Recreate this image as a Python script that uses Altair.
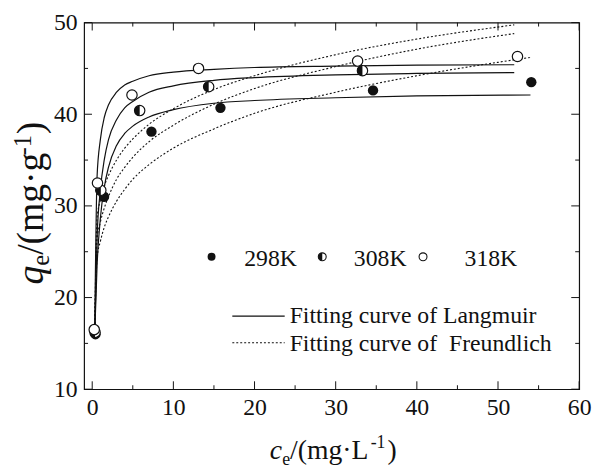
import altair as alt
import pandas as pd

# ---------------- data ----------------
# experimental points
c_298 = [0.40, 1.46, 7.3, 15.8, 34.6, 54.1]
q_298 = [16.0, 31.0, 38.1, 40.7, 42.6, 43.5]
c_308 = [0.35, 1.06, 5.85, 14.35, 33.3]
q_308 = [16.2, 31.7, 40.4, 43.0, 44.75]
c_318 = [0.25, 0.65, 4.9, 13.1, 32.7, 52.4]
q_318 = [16.5, 32.5, 42.1, 45.0, 45.8, 46.3]

# fitted curves
cL = [0.3, 0.6, 1, 1.5, 2, 3, 4, 5, 7, 10, 15, 20, 30, 40, 52]
cL_298 = [0.3, 0.6, 1, 1.5, 2, 3, 4, 5, 7, 10, 15, 20, 30, 40, 54]
lang_298 = [15.8, 23.5, 28.6, 32.1, 34.2, 36.6, 37.9, 38.7, 39.7, 40.5, 41.2, 41.5, 41.8, 42.0, 42.1]
lang_308 = [15.8, 26.5, 31.7, 35.1, 37.2, 39.4, 40.7, 41.4, 42.4, 43.1, 43.7, 44.0, 44.3, 44.45, 44.55]
lang_318 = [15.8, 33.2, 37.2, 39.7, 41.0, 42.4, 43.2, 43.6, 44.2, 44.6, 44.9, 45.1, 45.25, 45.35, 45.4]
freu_298 = [15.8, 24.3, 26.1, 27.7, 28.8, 30.5, 31.8, 32.9, 34.5, 36.3, 38.4, 40.1, 42.4, 44.2, 46.2]
freu_308 = [15.8, 26.3, 28.2, 29.8, 31.0, 32.9, 34.2, 35.3, 37.0, 38.8, 41.1, 42.8, 45.2, 47.1, 48.8]
freu_318 = [15.8, 28.7, 30.6, 32.2, 33.3, 35.0, 36.3, 37.3, 38.9, 40.6, 42.7, 44.2, 46.5, 48.2, 49.75]

x_major = [0, 10, 20, 30, 40, 50, 60]
x_minor = [5, 15, 25, 35, 45, 55]
y_major = [10, 20, 30, 40, 50]
y_minor = [15, 25, 35, 45]

# ---------------- chart ----------------
W, H = 501, 371
FONT = "Liberation Serif"
INK = "#111111"
xs = alt.Scale(domain=[-1, 60], nice=False, zero=False)
ys = alt.Scale(domain=[10, 50], nice=False, zero=False)

x_axis = alt.Axis(values=x_major, labelFont=FONT, labelFontSize=24, labelColor=INK,
                  ticks=False, domain=False, grid=False, title=None, labelPadding=7,
                  labelFlush=False)
y_axis = alt.Axis(values=y_major, labelFont=FONT, labelFontSize=24, labelColor=INK,
                  ticks=False, domain=False, grid=False, title=None, labelPadding=7,
                  labelFlush=False)

def curve(cs, qs, name):
    return pd.DataFrame({"c": cs, "q": qs, "curve": name})

lang_df = pd.concat([curve(cL_298, lang_298, "L298"), curve(cL, lang_308, "L308"),
                     curve(cL, lang_318, "L318")])
freu_df = pd.concat([curve(cL_298, freu_298, "F298"), curve(cL, freu_308, "F308"),
                     curve(cL, freu_318, "F318")])

base_enc = dict(x=alt.X("c:Q", scale=xs, axis=x_axis), y=alt.Y("q:Q", scale=ys, axis=y_axis))

lang = alt.Chart(lang_df).mark_line(color=INK, strokeWidth=1.2, interpolate="monotone").encode(
    detail="curve:N", **base_enc)
freu = alt.Chart(freu_df).mark_line(color=INK, strokeWidth=1.1, strokeDash=[2, 2],
                                    interpolate="monotone").encode(detail="curve:N", **base_enc)

def pts(cs, qs):
    return pd.DataFrame({"c": cs, "q": qs})

HALF = "M0,-1A1,1 0 0 0 0,1Z"
P = 110
p298 = alt.Chart(pts(c_298, q_298)).mark_point(shape="circle", filled=True, color=INK,
                                                  size=P, opacity=1).encode(**base_enc)
p308o = alt.Chart(pts(c_308, q_308)).mark_point(shape="circle", fill="white", stroke=INK,
                                                   strokeWidth=1.2, size=P, opacity=1).encode(**base_enc)
p308h = alt.Chart(pts(c_308, q_308)).mark_point(shape=HALF, filled=True, color=INK,
                                                   size=P, opacity=1).encode(**base_enc)
p318 = alt.Chart(pts(c_318, q_318)).mark_point(shape="circle", fill="white", stroke=INK,
                                                  strokeWidth=1.2, size=P, opacity=1).encode(**base_enc)

# inward ticks on all four sides
def tdf(v):
    return pd.DataFrame({"v": v})

def xticks(vals, length):
    bot = alt.Chart(tdf(vals)).mark_rule(color=INK, strokeWidth=1).encode(
        x=alt.X("v:Q", scale=xs, axis=x_axis), y=alt.value(H), y2=alt.value(H - length))
    top = alt.Chart(tdf(vals)).mark_rule(color=INK, strokeWidth=1).encode(
        x=alt.X("v:Q", scale=xs, axis=x_axis), y=alt.value(0), y2=alt.value(length))
    return [bot, top]

def yticks(vals, length):
    left = alt.Chart(tdf(vals)).mark_rule(color=INK, strokeWidth=1).encode(
        y=alt.Y("v:Q", scale=ys, axis=y_axis), x=alt.value(0), x2=alt.value(length))
    right = alt.Chart(tdf(vals)).mark_rule(color=INK, strokeWidth=1).encode(
        y=alt.Y("v:Q", scale=ys, axis=y_axis), x=alt.value(W), x2=alt.value(W - length))
    return [left, right]

ticks = xticks(x_major, 8) + xticks(x_minor, 4) + yticks(y_major, 8) + yticks(y_minor, 4)

one = pd.DataFrame({"a": [0]})

def txt(s, x, y, size=24, style="normal", angle=0, align="left"):
    return alt.Chart(one).mark_text(text=s, font=FONT, fontSize=size, fontStyle=style,
                                    color=INK, align=align, baseline="alphabetic",
                                    angle=angle).encode(x=alt.value(x), y=alt.value(y))

def lpt(x, y, kind):
    if kind == "filled":
        return [alt.Chart(one).mark_point(shape="circle", filled=True, color=INK, size=64,
                                          opacity=1).encode(x=alt.value(x), y=alt.value(y))]
    if kind == "open":
        return [alt.Chart(one).mark_point(shape="circle", fill="white", stroke=INK, strokeWidth=1.1,
                                          size=64, opacity=1).encode(x=alt.value(x), y=alt.value(y))]
    return [alt.Chart(one).mark_point(shape="circle", fill="white", stroke=INK, strokeWidth=1.1,
                                      size=64, opacity=1).encode(x=alt.value(x), y=alt.value(y)),
            alt.Chart(one).mark_point(shape=HALF, filled=True, color=INK, size=64,
                                      opacity=1).encode(x=alt.value(x), y=alt.value(y))]

legend = []
legend += lpt(129, 237, "filled") + [txt("298K", 162, 246)]
legend += lpt(241, 237, "half") + [txt("308K", 273, 246)]
legend += lpt(343, 237, "open") + [txt("318K", 385, 246)]
legend.append(alt.Chart(one).mark_rule(color=INK, strokeWidth=1.2).encode(
    x=alt.value(150), x2=alt.value(203), y=alt.value(297)))
legend.append(alt.Chart(one).mark_rule(color=INK, strokeWidth=1.1, strokeDash=[2, 2]).encode(
    x=alt.value(150), x2=alt.value(203), y=alt.value(324)))
legend.append(txt("Fitting curve of Langmuir", 208, 304))
legend.append(txt("Fitting curve of \u00a0Freundlich", 208, 332))

# x title built from pieces (italic symbol, subscript, superscript)
titles = [
    txt("c", 188, 442, 28, "italic"),
    txt("e", 200.5, 448, 18),
    txt("/(mg\u00b7L", 208.5, 442, 28),
    txt("-1", 290, 431, 18),
    txt(")", 307, 442, 28),
]
# y title, rotated (x = baseline, y = start of each piece)
YB = -42
for s, yy, size, dx, style in [("q", 265, 38, 0, "italic"), ("e", 246, 25, 6, "normal"),
                               ("/(mg\u00b7g", 235, 38, 0, "normal"),
                               ("-1", 134.5, 25, -12, "normal"), (")", 113, 38, 0, "normal")]:
    titles.append(txt(s, YB + dx, yy, size, style, angle=270))

chart = alt.layer(lang, freu, p298, p308o, p308h, p318, *ticks, *legend, *titles).properties(
    width=W, height=H,
    padding={"left": 77, "top": 12, "right": 14, "bottom": 79},
    autosize=alt.AutoSizeParams(type="none"),
    background="white",
).configure_view(stroke=INK, strokeWidth=1.2)

chart.save("out.html", embed_options={"renderer": "svg", "actions": False})
